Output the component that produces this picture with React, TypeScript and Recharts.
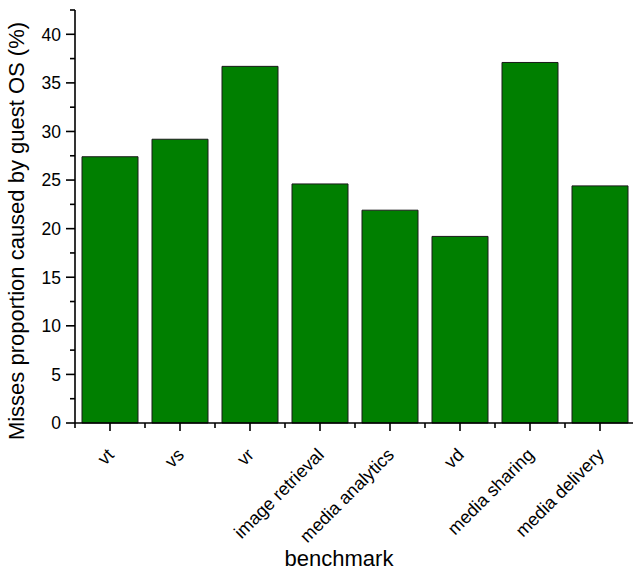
import { BarChart, Bar, XAxis, YAxis } from 'recharts'

const categories = ['vt', 'vs', 'vr', 'image retrieval', 'media analytics', 'vd', 'media sharing', 'media delivery']
const missesProportion = [27.4, 29.2, 36.7, 24.6, 21.9, 19.2, 37.1, 24.4]
const yTicks = [0, 2.5, 5, 7.5, 10, 12.5, 15, 17.5, 20, 22.5, 25, 27.5, 30, 32.5, 35, 37.5, 40, 42.5]

const data = categories.map((name, i) => ({ name, value: missesProportion[i] }))

const FONT = "'Liberation Sans', Arial, sans-serif"
const CHART_W = 635
const CHART_H = 572
const LEFT = 75
const BAND = (CHART_W - LEFT) / categories.length

if (typeof document !== 'undefined') document.body.style.margin = '0'

function YTick(props: any) {
  const { x, y, payload } = props
  const major = payload.value % 5 === 0
  return (
    <g>
      <line x1={x - (major ? 9 : 5)} x2={x} y1={y} y2={y} stroke="#000" strokeWidth={1.6} />
      {major && (
        <text x={x - 14} y={y} dy="0.36em" textAnchor="end" fontSize={17.5} fontFamily={FONT} fill="#000">
          {payload.value}
        </text>
      )}
    </g>
  )
}

function XTick(props: any) {
  const { x, y, payload, index } = props
  const last = index === categories.length - 1
  const ax = x + 5
  const ay = y + 33
  return (
    <g>
      <line x1={x} x2={x} y1={y} y2={y + 8} stroke="#000" strokeWidth={1.6} />
      <line x1={x - BAND / 2} x2={x - BAND / 2} y1={y} y2={y + 5} stroke="#000" strokeWidth={1.6} />
      {last && <line x1={x + BAND / 2} x2={x + BAND / 2} y1={y} y2={y + 5} stroke="#000" strokeWidth={1.6} />}
      <text
        x={ax}
        y={ay}
        textAnchor="end"
        fontSize={18}
        fontFamily={FONT}
        fill="#000"
        transform={`rotate(-45, ${ax}, ${ay})`}
      >
        {payload.value}
      </text>
    </g>
  )
}

export default function App() {
  return (
    <div style={{ width: 633, height: CHART_H, overflow: 'hidden', background: '#fff' }}>
      <BarChart width={CHART_W} height={CHART_H} data={data} margin={{ top: 10, right: 0, bottom: 0, left: 0 }} barCategoryGap="10%">
        <XAxis
          dataKey="name"
          height={149}
          interval={0}
          tickLine={false}
          tickSize={0}
          tickMargin={0}
          axisLine={{ stroke: '#000', strokeWidth: 1.6 }}
          tick={<XTick />}
        />
        <YAxis
          width={LEFT}
          domain={[0, 42.5]}
          ticks={yTicks}
          interval={0}
          tickLine={false}
          tickSize={0}
          tickMargin={0}
          axisLine={{ stroke: '#000', strokeWidth: 1.6 }}
          tick={<YTick />}
        />
        <Bar dataKey="value" fill="#007f00" stroke="#1a1a1a" strokeWidth={1} isAnimationActive={false} />
        <text x={24} y={231} textAnchor="middle" fontSize={22} fontFamily={FONT} fill="#000" transform="rotate(-90, 24, 231)">
          Misses proportion caused by guest OS (%)
        </text>
        <text x={339} y={566} textAnchor="middle" fontSize={22} fontFamily={FONT} fill="#000">
          benchmark
        </text>
      </BarChart>
    </div>
  )
}
